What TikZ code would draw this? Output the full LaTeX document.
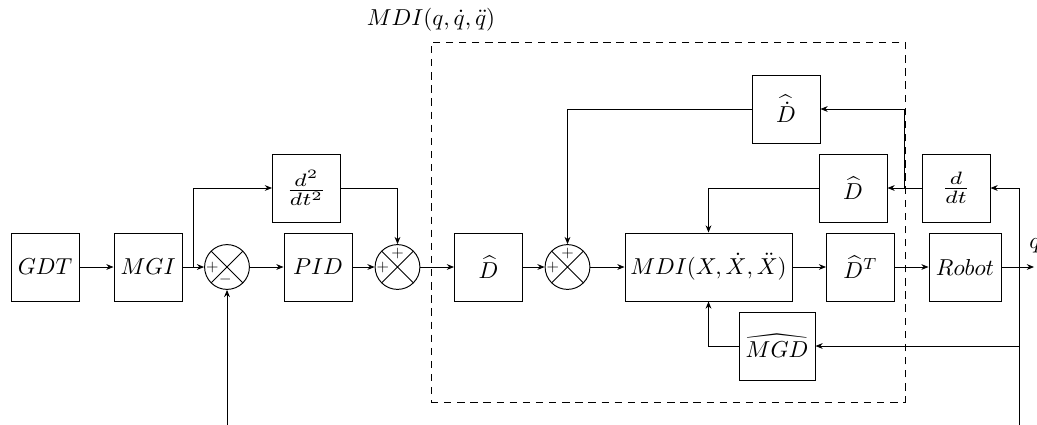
\documentclass[tikz,border=0pt]{standalone}
\usepackage{graphicx}
\usetikzlibrary{arrows.meta,calc}
\newcommand{\bigtx}[1]{\scalebox{1.44}{#1}}
\newcommand{\fractx}[1]{\scalebox{1.9}[1.6]{#1}}
\newcommand{\widerhat}[1]{\scalebox{1.79}[1]{$\widehat{\scalebox{0.56}[1]{$#1$}}$}}
\begin{document}
\begin{tikzpicture}[x=0.625pt,y=-0.625pt,line width=0.6pt,
  blk/.style={draw,line width=0.6pt,minimum width=42.5pt,minimum height=42.5pt,inner sep=2pt},
  sumc/.style={draw,circle,line width=0.6pt,minimum size=28pt,inner sep=0pt,
    path picture={\draw[line width=0.6pt] (path picture bounding box.north west) -- (path picture bounding box.south east)
                  (path picture bounding box.north east) -- (path picture bounding box.south west);}},
  sgn/.style={inner sep=0pt},
  arr/.style={-{Stealth[length=4.5pt,width=3.6pt]}},
  dbox/.style={draw,dash pattern=on 4.6pt off 3.6pt,line width=0.6pt}]
\clip (0,0) rectangle (1037,424);
\useasboundingbox (0,0) rectangle (1037,424);
% main row
\node[blk] (gdt) at (45,267) {\bigtx{$GDT$}};
\node[blk] (mgi) at (148,267) {\bigtx{$MGI$}};
\node[sumc] (s1) at (227,267) {};
\node[blk] (d2) at (306.5,188) {\fractx{$\frac{d^2}{dt^2}$}};
\node[blk] (pid) at (318,267) {\bigtx{$PID$}};
\node[sumc] (s2) at (397.5,267) {};
\node[blk] (dh1) at (488.5,267) {\bigtx{$\widehat{D}$}};
\node[sumc] (s3) at (567.5,267) {};
\node[blk,minimum width=104.4pt] (mdi) at (708.5,267) {\bigtx{$MDI(X,\dot{X},\ddot{X})$}};
\node[blk] (dt) at (860.5,267) {\bigtx{$\widehat{D}^T$}};
\node[blk,minimum width=45pt] (rob) at (965,267) {\bigtx{$Robot$}};
\node[blk] (ddot) at (786,109) {\bigtx{$\widehat{\dot{D}}$}};
\node[blk] (dh2) at (853,188) {\bigtx{$\widehat{D}$}};
\node[blk] (ddt) at (956,188) {\fractx{$\frac{d}{dt}$}};
\node[blk,minimum width=47.5pt] (mgd) at (777,346) {\bigtx{\widerhat{MGD}}};
% signs
\node[sgn] (s1a) at ([xshift=-9.2pt]s1.center) {$+$};
\node[sgn] (s1b) at ([yshift=-7.6pt,xshift=-1pt]s1.center) {$-$};
\node[sgn] (s2a) at ([xshift=-9.2pt]s2.center) {$+$};
\node[sgn] (s2b) at ([yshift=8.4pt]s2.center) {$+$};
\node[sgn] (s3a) at ([xshift=-9.2pt]s3.center) {$+$};
\node[sgn] (s3b) at ([yshift=8.4pt]s3.center) {$+$};
% dashed frame
\node[dbox,minimum width=296.25pt,minimum height=225pt,inner sep=0pt] (frame) at (668,222) {};
\node[anchor=south,inner sep=2pt] (flab) at (431,35) {\bigtx{$MDI(q,\dot{q},\ddot{q})$}};
% coordinates
\coordinate (br1) at (193,267);
\coordinate (br2) at (904,188);
\coordinate (fb) at (1019,346);
\coordinate (bot1) at (227,440);
\coordinate (bot2) at (1019,440);
\coordinate (qend) at (1034,267);
% connectors
\draw[arr] (gdt) -- (mgi);
\draw[arr] (mgi) -- (s1);
\draw[arr] (br1) |- (d2.west);
\draw[arr] (d2.east) -| (s2.north);
\draw[arr] (s1) -- (pid);
\draw[arr] (pid) -- (s2);
\draw[arr] (s2) -- (dh1);
\draw[arr] (dh1) -- (s3);
\draw[arr] (s3) -- (mdi);
\draw[arr] (mdi) -- (dt);
\draw[arr] (dt) -- (rob);
\draw[arr] (rob) -- (qend);
\node[anchor=base west,inner sep=0pt] (qlab) at (1029,248) {\bigtx{$q$}};
\draw[arr] (bot1) -- (s1.south);
\draw[arr] (bot2) |- (ddt.east);
\draw[arr] (fb) -- (mgd.east);
\draw[arr] (ddt.west) -- (dh2.east);
\draw[arr] (br2) |- (ddot.east);
\draw[arr] (ddot.west) -| (s3.north);
\draw[arr] (dh2.west) -| (mdi.north);
\draw[arr] (mgd.west) -| (mdi.south);
\end{tikzpicture}
\end{document}
